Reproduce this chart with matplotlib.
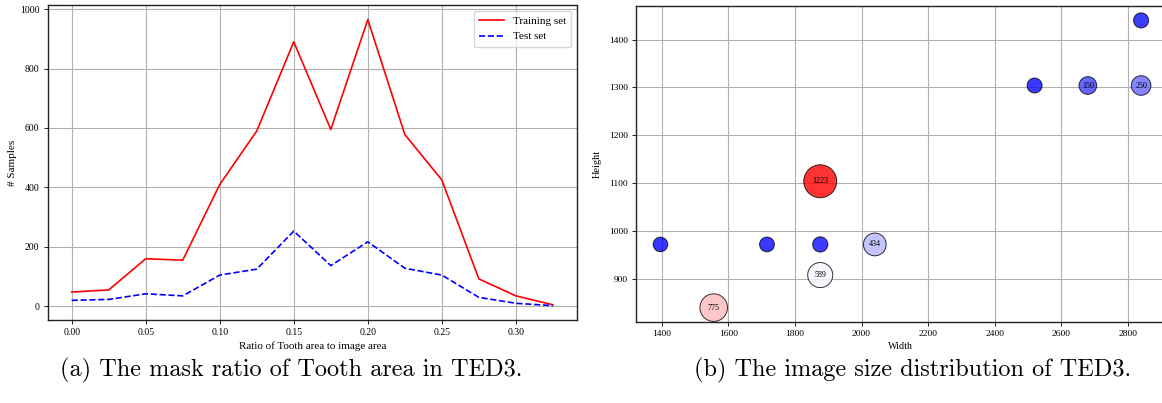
import numpy as np
import matplotlib
matplotlib.use("Agg")
import matplotlib.pyplot as plt

# left panel: mask ratio histogram (as lines)
ratio = [0.0, 0.025, 0.05, 0.075, 0.10, 0.125, 0.15, 0.175, 0.20, 0.225, 0.25, 0.275, 0.30, 0.325]
train_counts = [48, 55, 160, 155, 410, 590, 890, 595, 965, 578, 425, 92, 35, 5]
test_counts = [20, 23, 42, 35, 105, 125, 253, 137, 217, 128, 105, 30, 10, 2]

# right panel: image sizes and how many images have each size
widths = [1396, 1716, 1876, 2040, 1876, 1556, 1876, 2520, 2680, 2840, 2840]
heights = [972, 972, 972, 972, 1104, 840, 908, 1304, 1304, 1304, 1440]
counts = [10, 18, 35, 434, 1223, 775, 589, 25, 150, 250, 30]
label_min = 100  # only bubbles with at least this many images get a number

plt.rcParams['font.family'] = ['Liberation Serif', 'DejaVu Serif']

fig = plt.figure(figsize=(11.62, 4.03), dpi=100)

# ---- (a)
ax1 = fig.add_axes([0.041, 0.206, 0.4555, 0.781])
ax1.plot(ratio, train_counts, color='red', lw=1.2, label='Training set')
ax1.plot(ratio, test_counts, color='blue', lw=1.2, ls='--', label='Test set')
ax1.grid(True, color='#b0b0b0', lw=0.8)
ax1.set_axisbelow(True)
ax1.set_xlabel('Ratio of Tooth area to image area', fontsize=8, labelpad=3)
ax1.set_ylabel('# Samples', fontsize=8, labelpad=2)
ax1.tick_params(labelsize=7, length=3, width=0.6, pad=3)
ax1.legend(loc='upper right', fontsize=8, handlelength=2.2, borderpad=0.5,
           framealpha=0.8)

# ---- (b)
ax2 = fig.add_axes([0.5477, 0.201, 0.455, 0.784])
c = np.array(counts)
sizes = 106 + 0.373 * c
ax2.scatter(widths, heights, s=sizes, c=c, cmap='bwr', vmin=0, vmax=c.max(),
            alpha=0.8, edgecolors='black', linewidths=0.7, zorder=3)
for w, h, n in zip(widths, heights, counts):
    if n >= label_min:
        ax2.text(w, h, str(n), ha='center', va='center', fontsize=5.8, zorder=4)
ax2.grid(True, color='#b0b0b0', lw=0.8)
ax2.set_axisbelow(True)
ax2.set_xlabel('Width', fontsize=7.2, labelpad=3)
ax2.set_ylabel('Height', fontsize=7.5, labelpad=5)
ax2.tick_params(labelsize=6.8, length=3, width=0.6, pad=3)

for ax in (ax1, ax2):
    for sp in ax.spines.values():
        sp.set_linewidth(1.0)
        sp.set_color('#222222')

# captions
fig.text(0.251, 0.082, '(a) The mask ratio of Tooth area in TED3.',
         family='cmr10', fontsize=17.5, ha='center', va='center')
fig.text(0.785, 0.082, '(b) The image size distribution of TED3.',
         family='cmr10', fontsize=17.5, ha='center', va='center')

fig.savefig('out.png', dpi=100)
